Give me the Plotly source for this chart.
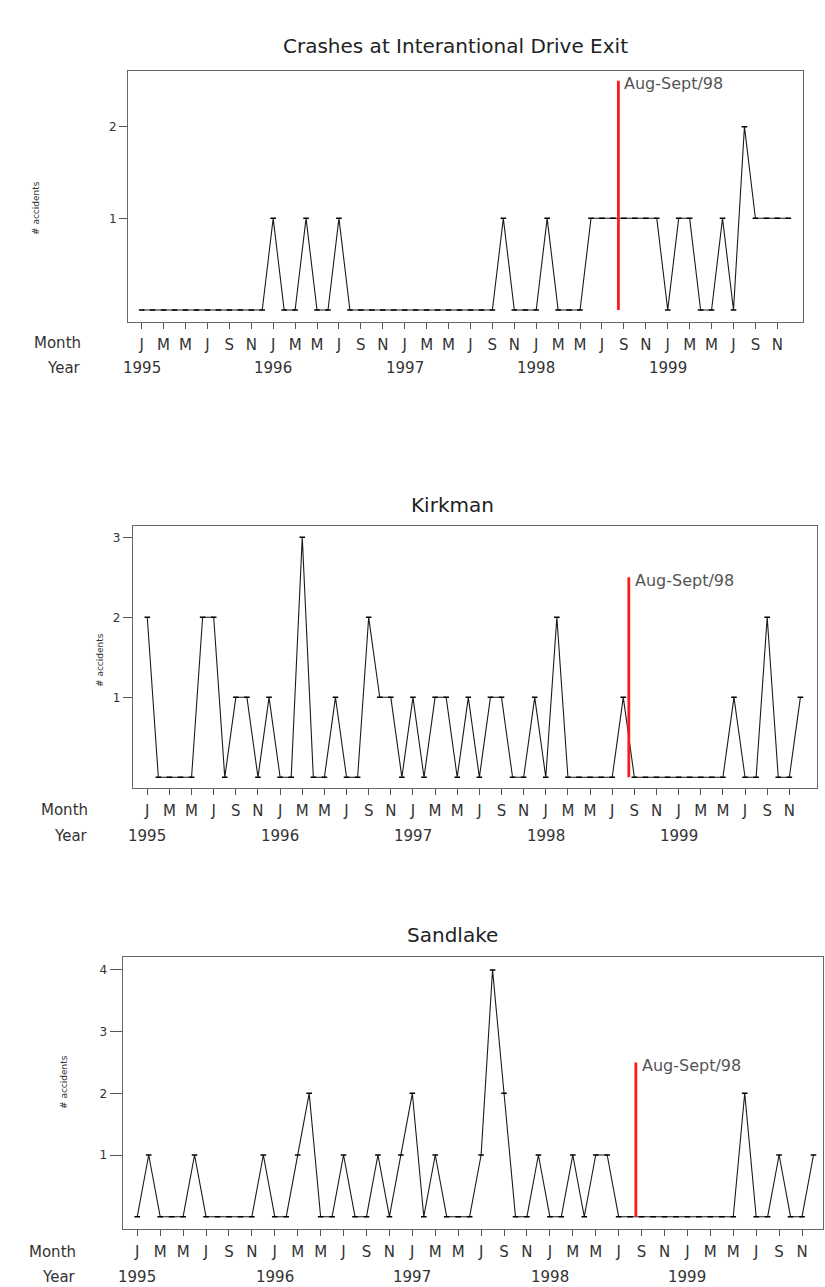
import plotly.graph_objects as go

# ---------------- data ----------------
years = [1995, 1996, 1997, 1998, 1999]
month_abbr = ["Jan", "Feb", "Mar", "Apr", "May", "Jun",
              "Jul", "Aug", "Sep", "Oct", "Nov", "Dec"]
months = [f"{m} {y}" for y in years for m in month_abbr]          # 60 categories
tick_months = months[::2]                                         # Jan, Mar, May, Jul, Sep, Nov
month_letters = ["J", "M", "M", "J", "S", "N"] * len(years)
year_labels = [str(y) for y in years]
year_ticks = [f"Jan {y}" for y in years]

intl_drive = [0, 0, 0, 0, 0, 0, 0, 0, 0, 0,
              0, 0, 1, 0, 0, 1, 0, 0, 1, 0,
              0, 0, 0, 0, 0, 0, 0, 0, 0, 0,
              0, 0, 0, 1, 0, 0, 0, 1, 0, 0,
              0, 1, 1, 1, 1, 1, 1, 1, 0, 1,
              1, 0, 0, 1, 0, 2, 1, 1, 1, 1]
kirkman = [2, 0, 0, 0, 0, 2, 2, 0, 1, 1,
           0, 1, 0, 0, 3, 0, 0, 1, 0, 0,
           2, 1, 1, 0, 1, 0, 1, 1, 0, 1,
           0, 1, 1, 0, 0, 1, 0, 2, 0, 0,
           0, 0, 0, 1, 0, 0, 0, 0, 0, 0,
           0, 0, 0, 1, 0, 0, 2, 0, 0, 1]
sandlake = [0, 1, 0, 0, 0, 1, 0, 0, 0, 0,
            0, 1, 0, 0, 1, 2, 0, 0, 1, 0,
            0, 1, 0, 1, 2, 0, 1, 0, 0, 0,
            1, 4, 2, 0, 0, 1, 0, 0, 1, 0,
            1, 1, 0, 0, 0, 0, 0, 0, 0, 0,
            0, 0, 0, 2, 0, 0, 1, 0, 0, 1]

titles = ["Crashes at Interantional Drive Exit", "Kirkman", "Sandlake"]
series = [intl_drive, kirkman, sandlake]
event_pos = 43.5          # between Aug and Sep 1998
event_top = 2.5
event_label = "Aug-Sept/98"
y_ticks = [[1, 2], [1, 2, 3], [1, 2, 3, 4]]

# ---------------- layout geometry (pixels) ----------------
W, H = 825, 1287
FONT = "DejaVu Sans"
TXT = "#333333"

panels = [
    dict(box=(128.3, 803.3, 70.7, 322.3), xr=(-1.22, 60.37), yr=(-0.134, 2.61),
         title_y=46, title_x=455, month_y=343, year_y=368, lab_x=83,
         ytitle_x=36, ytitle_y=208, yticklen=8),
    dict(box=(133.0, 817.0, 525.7, 788.3), xr=(-1.29, 60.5), yr=(-0.1375, 3.145),
         title_y=505, title_x=452, month_y=810, year_y=836, lab_x=90,
         ytitle_x=100, ytitle_y=660, yticklen=9),
    dict(box=(122.7, 823.0, 957.3, 1229.3), xr=(-1.27, 59.83), yr=(-0.204, 4.204),
         title_y=935, title_x=452, month_y=1252, year_y=1277, lab_x=78,
         ytitle_x=64, ytitle_y=1082, yticklen=12),
]


def px_x(v):
    return v / W


def px_y(v):
    return 1 - v / H


fig = go.Figure()
annotations = []
shapes = []

for i, (p, vals, title, yt) in enumerate(zip(panels, series, titles, y_ticks)):
    n = "" if i == 0 else str(i + 1)
    xa, ya = "x" + n, "y" + n
    l, r, t, b = p["box"]

    fig.add_trace(go.Scatter(
        x=months, y=vals, mode="lines+markers", xaxis=xa, yaxis=ya,
        line=dict(color="#1a1a1a", width=1.1),
        marker=dict(symbol="line-ew", size=4, line=dict(color="#000000", width=1.5)),
        hoverinfo="x+y", showlegend=False,
    ))

    fig.update_layout(**{
        "xaxis" + n: dict(
            domain=[px_x(l), px_x(r)], anchor=ya, type="category",
            categoryorder="array", categoryarray=months,
            range=list(p["xr"]), tickmode="array", tickvals=tick_months,
            ticktext=month_letters, ticks="outside", ticklen=6, tickwidth=1,
            tickcolor="#555555", showline=True, mirror=True, linecolor="#666666",
            linewidth=1.3, showgrid=False, zeroline=False, tickangle=0,
            tickfont=dict(family=FONT, size=15, color=TXT), ticklabelstandoff=3,
        ),
        "yaxis" + n: dict(
            domain=[px_y(b), px_y(t)], anchor=xa, range=list(p["yr"]),
            tickmode="array", tickvals=yt, ticktext=[str(v) for v in yt],
            ticks="outside", ticklen=p["yticklen"], tickwidth=1, tickcolor="#555555",
            showline=True, mirror=True, linecolor="#666666", linewidth=1.3,
            showgrid=False, zeroline=False,
            tickfont=dict(family=FONT, size=12, color=TXT),
        ),
    })

    # event marker
    shapes.append(dict(type="line", xref=xa, yref=ya, x0=event_pos, x1=event_pos,
                       y0=0, y1=event_top, line=dict(color="#ff1a1a", width=2.8)))
    annotations.append(dict(x=event_pos, y=event_top, xref=xa, yref=ya,
                            text=event_label, showarrow=False, xanchor="left",
                            yanchor="middle", xshift=4, yshift=-3,
                            font=dict(family=FONT, size=16, color="#555555")))

    # title
    annotations.append(dict(x=px_x(p["title_x"]), y=px_y(p["title_y"]), xref="paper",
                            yref="paper", text=title, showarrow=False,
                            xanchor="center", yanchor="middle",
                            font=dict(family=FONT, size=20, color="#222222")))
    # y-axis title
    annotations.append(dict(x=px_x(p["ytitle_x"]), y=px_y(p["ytitle_y"]), xref="paper",
                            yref="paper", text="# accidents", showarrow=False,
                            textangle=-90, xanchor="center", yanchor="middle",
                            font=dict(family=FONT, size=9, color=TXT)))
    # row labels
    annotations.append(dict(x=px_x(p["lab_x"]), y=px_y(p["month_y"]), xref="paper",
                            yref="paper", text="Month", showarrow=False,
                            xanchor="right", yanchor="middle",
                            font=dict(family=FONT, size=15, color=TXT)))
    annotations.append(dict(x=px_x(p["lab_x"]), y=px_y(p["year_y"]), xref="paper",
                            yref="paper", text="Year", showarrow=False,
                            xanchor="right", yanchor="middle",
                            font=dict(family=FONT, size=15, color=TXT)))
    # year labels under January ticks
    for yl, yx in zip(year_labels, year_ticks):
        annotations.append(dict(x=yx, y=px_y(p["year_y"]), xref=xa, yref="paper",
                                text=yl, showarrow=False, xanchor="center",
                                yanchor="middle",
                                font=dict(family=FONT, size=15, color=TXT)))

fig.update_layout(
    width=W, height=H, margin=dict(l=0, r=0, t=0, b=0),
    paper_bgcolor="white", plot_bgcolor="white",
    annotations=annotations, shapes=shapes, showlegend=False,
)

fig.write_html(
    "out.html",
    config={"displayModeBar": False},
    post_script="document.body.style.margin='0px';document.body.style.overflow='hidden';",
)
